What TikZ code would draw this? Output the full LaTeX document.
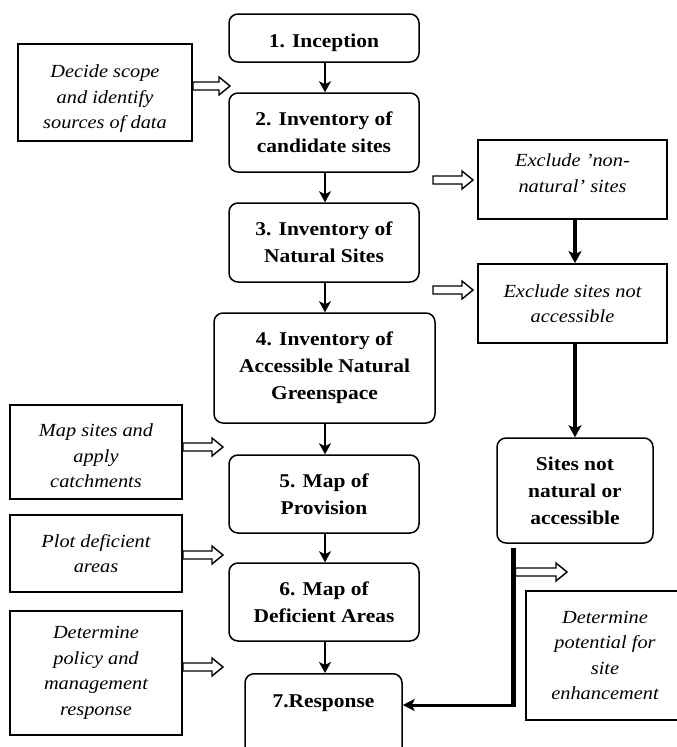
\documentclass[tikz,border=0pt]{standalone}
\usepackage{fontspec}
\setmainfont{Liberation Serif}[FakeStretch=1.1]
\usetikzlibrary{arrows.meta,calc}

% straight typewriter apostrophe
\newcommand\sq{{\char"27}}
% invisible struts to nudge a text block inside its box
\newcommand\topstrut[1]{\rule{0pt}{#1}}
\newcommand\botstrut[1]{\rule[-#1]{0pt}{0pt}}

% open double-outlined arrow between two points (same height as the first one)
\newcommand\hollowarr[2]{%
  \draw[hollow] let \p1=#1, \p2=#2 in
    (\x1,\y1+4pt) -- (\x2-11pt,\y1+4pt) -- (\x2-11pt,\y1+9pt) -- (\x2,\y1)
    -- (\x2-11pt,\y1-9pt) -- (\x2-11pt,\y1-4pt) -- (\x1,\y1-4pt) -- cycle;}

\begin{document}
\begin{tikzpicture}[x=1pt,y=-1pt,
  mainbox/.style={draw, rounded corners=9pt, line width=1.5pt, align=center,
    inner sep=0pt, font=\bfseries\fontsize{19.5}{27}\selectfont},
  sidebox/.style={draw, line width=1.8pt, align=center, inner sep=0pt,
    font=\itshape\fontsize{18.5}{25.5}\selectfont},
  flow/.style={line width=2pt, -{Stealth[length=11pt,width=12pt,inset=3pt]}},
  heavyflow/.style={line width=3.5pt, -{Stealth[length=12pt,width=13pt,inset=3pt]}},
  hollow/.style={draw, line width=1.4pt, line join=miter, fill=white}]
\useasboundingbox (0,0) rectangle (677,747);

% main sequence of stages
\node[mainbox, minimum width=190pt, minimum height=48pt, text height=19pt, text depth=0pt] (b1) at (324,38) {1. Inception};
\node[mainbox, minimum width=190pt, minimum height=79pt] (b2) at (324,132.5) {2. Inventory of\\candidate sites};
\node[mainbox, minimum width=190pt, minimum height=79pt] (b3) at (324,242.5) {3. Inventory of\\Natural Sites};
\node[mainbox, minimum width=221pt, minimum height=110pt] (b4) at (324.5,368) {4. Inventory of\\Accessible Natural\\Greenspace};
\node[mainbox, minimum width=190pt, minimum height=78pt] (b5) at (324,494) {5. Map of\\Provision};
\node[mainbox, minimum width=190pt, minimum height=78pt] (b6) at (324,602) {6. Map of\\Deficient Areas};
\node[mainbox, minimum width=157pt, text height=34pt, text depth=76pt, anchor=north] (b7) at (323.5,673) {7.Response};

% side tasks on the left
\node[sidebox, minimum width=174pt, minimum height=97pt] (sA) at (105,92.5) {\topstrut{25pt}Decide scope\\and identify\\sources of data};
\node[sidebox, minimum width=172pt, minimum height=94pt] (sF) at (96,452) {\topstrut{21pt}Map sites and\\apply\\catchments};
\node[sidebox, minimum width=172pt, minimum height=77pt] (sG) at (96,553.5) {Plot deficient\\areas};
\node[sidebox, minimum width=172pt, minimum height=124pt] (sH) at (96,673) {Determine\\policy and\\management\\response};

% exclusion branch on the right
\node[sidebox, minimum width=189pt, minimum height=79pt] (sB) at (572.5,179.5) {Exclude \sq non-\\natural\sq\ sites\botstrut{13pt}};
\node[sidebox, minimum width=189pt, minimum height=79pt] (sC) at (572.5,303.5) {Exclude sites not\\accessible};
\node[mainbox, minimum width=156pt, minimum height=105pt] (sD) at (575,490.5) {Sites not\\natural or\\accessible};
% this box runs off the right margin, so only three sides are drawn
\node[sidebox, draw=none, minimum width=156pt, minimum height=127pt] (sE) at (605,655.5) {Determine\\potential for\\site\\enhancement};
\draw[line width=1.8pt] ($(sE.north east)+(20,0)$) -- (sE.north west) -- (sE.south west) -- ($(sE.south east)+(20,0)$);

% main flow arrows
\draw[flow] (b1.south -| 325,0) -- (b2.north -| 325,0);
\draw[flow] (b2.south -| 325,0) -- (b3.north -| 325,0);
\draw[flow] (b3.south -| 325,0) -- (b4.north -| 325,0);
\draw[flow] (b4.south -| 325,0) -- (b5.north -| 325,0);
\draw[flow] (b5.south -| 325,0) -- (b6.north -| 325,0);
\draw[flow] (b6.south -| 325,0) -- (b7.north -| 325,0);

% exclusion branch arrows
\draw[heavyflow] (sB.south -| sD.north) -- (sC.north -| sD.north);
\draw[heavyflow] (sC.south -| sD.north) -- (sD.north);

\coordinate (dstart) at (513,548);
\coordinate (dbend) at (513,705);
\draw[line width=5pt] (dstart) -- ($(dbend)+(0,1.5)$);
\draw[line width=3pt, -{Stealth[length=12pt,width=12pt,inset=3pt]}] (dbend) -- (b7.east |- dbend);

% hollow arrows feeding the stages
\coordinate (hA) at (230,86);
\coordinate (hB) at (473,180);
\coordinate (hC) at (473,290);
\coordinate (hF) at (223,447);
\coordinate (hG) at (223,555);
\coordinate (hH) at (223,667);
\coordinate (hD) at (567,572);
\hollowarr{(sA.east |- hA)}{(hA)}
\hollowarr{(433,180)}{(hB)}
\hollowarr{(433,290)}{(hC)}
\hollowarr{(sF.east |- hF)}{(hF)}
\hollowarr{(sG.east |- hG)}{(hG)}
\hollowarr{(sH.east |- hH)}{(hH)}
\hollowarr{(515.5,572)}{(hD)}
\end{tikzpicture}
\end{document}
